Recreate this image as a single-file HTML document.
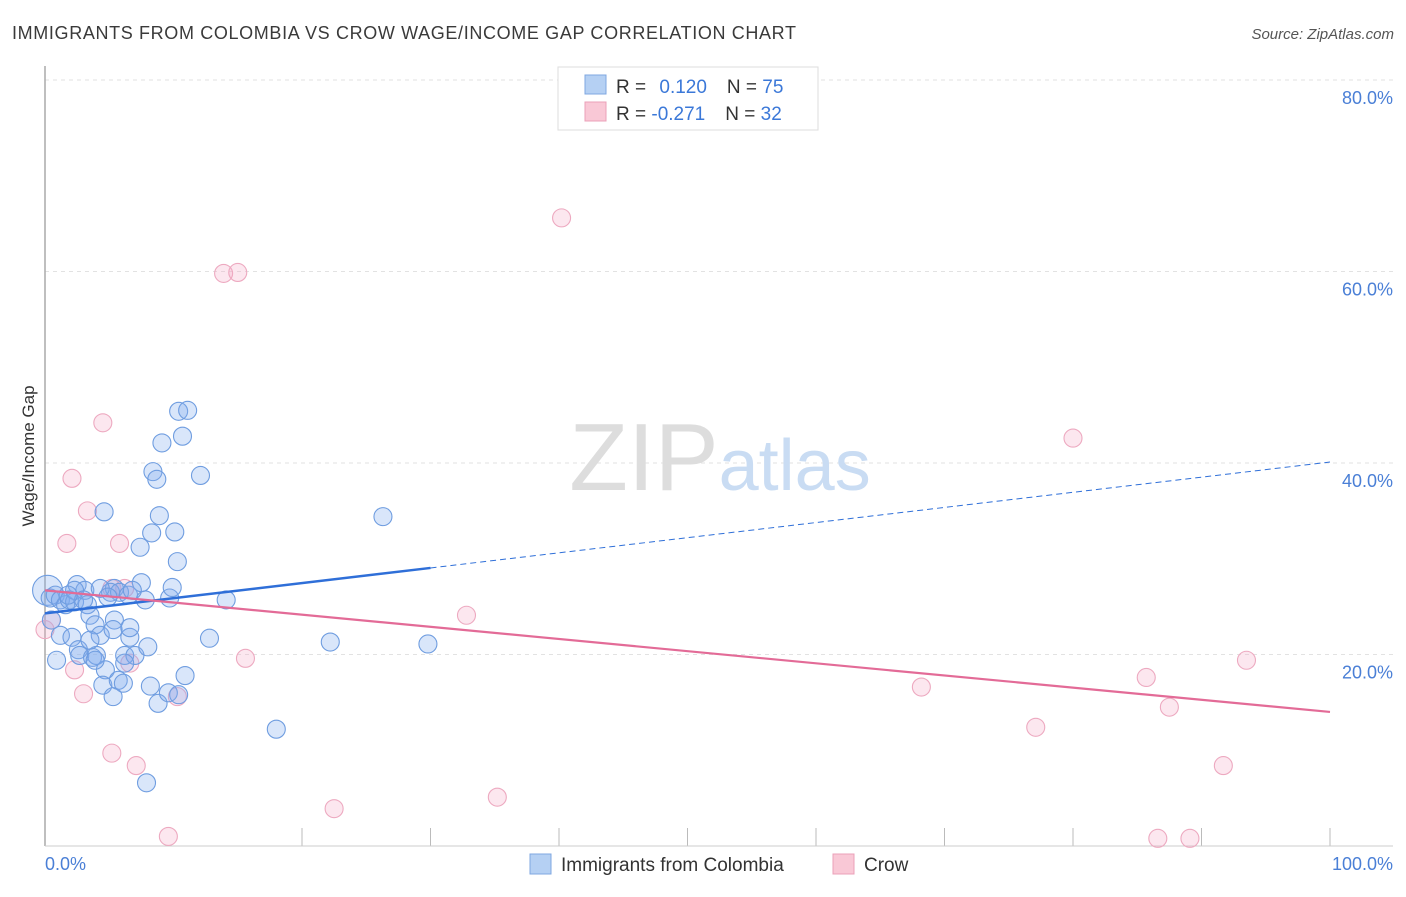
<!DOCTYPE html>
<html><head><meta charset="utf-8">
<style>
body{margin:0;background:#fff;font-family:"Liberation Sans",sans-serif;}
svg text{font-family:"Liberation Sans",sans-serif;}
</style></head>
<body>
<svg id="chart" width="1406" height="892" viewBox="0 0 1406 892" xmlns="http://www.w3.org/2000/svg">
<text x="12" y="39" font-size="18" fill="#3a3a3a" textLength="784">IMMIGRANTS FROM COLOMBIA VS CROW WAGE/INCOME GAP CORRELATION CHART</text>
<text x="1394" y="39" font-size="15" fill="#555" text-anchor="end" font-style="italic">Source: ZipAtlas.com</text>
<g id="grid"></g>
<text x="720" y="490" font-size="96" text-anchor="middle" fill="#ddd" font-family="Liberation Serif">ZIP<tspan fill="#c9dcf3" font-family="Liberation Sans" font-size="72">atlas</tspan></text>
<line x1="45" y1="66" x2="45" y2="846" stroke="#aaa" stroke-width="1.5"/>
<line x1="45" y1="846" x2="1393" y2="846" stroke="#ccc" stroke-width="1"/>
<text transform="translate(34,456) rotate(-90)" font-size="17" fill="#333" text-anchor="middle">Wage/Income Gap</text>
<text x="45" y="870" font-size="18" fill="#4a7fd6">0.0%</text>
<text x="1393" y="870" font-size="18" fill="#4a7fd6" text-anchor="end">100.0%</text>
<g id="ticks"></g>
<g id="pts"></g>
<g id="trends"></g>
<g>
<rect x="558" y="67" width="260" height="63" fill="#fff" stroke="#ddd"/>
<rect x="585" y="75" width="21" height="19" fill="#b5d0f3" stroke="#7fa7e0"/>
<rect x="585" y="102" width="21" height="19" fill="#f9c8d6" stroke="#eba0b8"/>
<text x="616" y="93" font-size="19" fill="#333">R = <tspan fill="#3b78d8" dx="8">0.120</tspan><tspan fill="#333" dx="20">N = </tspan><tspan fill="#3b78d8">75</tspan></text>
<text x="616" y="120" font-size="19" fill="#333">R = <tspan fill="#3b78d8">-0.271</tspan><tspan fill="#333" dx="20">N = </tspan><tspan fill="#3b78d8">32</tspan></text>
</g>
<g>
<rect x="530" y="854" width="21" height="20" fill="#b5d0f3" stroke="#7fa7e0"/>
<text x="561" y="871" font-size="19" fill="#333">Immigrants from Colombia</text>
<rect x="833" y="854" width="21" height="20" fill="#f9c8d6" stroke="#eba0b8"/>
<text x="864" y="871" font-size="19" fill="#333">Crow</text>
</g>
</svg>
<script>
const yTicks=[20,40,60,80];
const xTickMarks=[20,30,40,50,60,70,80,90,100];
const blueX=[0.2,0.4,0.8,1.2,1.6,1.9,2.3,0.5,1.2,0.9,2.1,2.6,2.7,2.5,3.1,3.3,3.5,3.9,4.3,3.7,4.0,4.7,4.5,5.3,5.7,6.1,5.4,5.1,5.8,6.5,5.4,5.3,6.2,6.6,6.6,7.0,6.2,7.8,7.5,8.0,8.2,8.8,9.6,10.4,10.9,7.9,9.7,9.9,8.9,8.3,7.4,10.1,10.3,4.6,9.1,8.4,8.7,10.7,10.4,11.1,12.1,12.8,14.1,18.0,22.2,26.3,29.8,4.3,4.9,6.8,2.3,3.0,3.5,3.9,1.8];
const blueY=[26.7,25.9,26.2,25.7,25.2,25.7,25.5,23.6,22.0,19.4,21.8,20.5,19.9,27.3,26.7,25.2,24.1,23.1,22.0,19.7,19.9,18.4,16.8,15.6,17.3,17.0,26.9,26.5,26.5,26.2,23.6,22.6,19.9,21.8,22.8,19.9,19.1,25.7,27.5,20.8,16.7,14.9,16.0,15.8,17.8,6.6,25.9,27.0,34.5,32.7,31.2,32.8,29.7,34.9,42.1,39.1,38.3,42.8,45.4,45.5,38.7,21.7,25.7,12.2,21.3,34.4,21.1,26.9,26.0,26.7,26.7,25.7,21.5,19.4,26.2];
const pinkX=[0,0.5,2.1,1.7,3.3,4.5,5.8,5.2,6.2,2.3,3.0,5.2,7.1,6.6,9.6,10.3,13.9,15.0,15.6,22.5,32.8,35.2,40.2,68.2,77.1,80.0,85.7,86.6,87.5,89.1,91.7,93.5];
const pinkY=[22.6,23.6,38.4,31.6,35.0,44.2,31.6,26.9,26.9,18.4,15.9,9.7,8.4,19.1,1.0,15.6,59.8,59.9,19.6,3.9,24.1,5.1,65.6,16.6,12.4,42.6,17.6,0.8,14.5,0.8,8.4,19.4];
const blueTrend=[24.3,40.1];
const pinkTrend=[26.7,14.0];
const NS="http://www.w3.org/2000/svg";
function sx(v){return 45+v*12.85;}
function sy(v){return 846-v*9.575;}
function mk(tag,attrs,parent){const e=document.createElementNS(NS,tag);for(const k in attrs)e.setAttribute(k,attrs[k]);parent.appendChild(e);return e;}
const grid=document.getElementById('grid'),ticks=document.getElementById('ticks'),pts=document.getElementById('pts'),tr=document.getElementById('trends');
yTicks.forEach(v=>{
 const l=mk('line',{x1:45,x2:1393,y1:sy(v),y2:sy(v),stroke:'#e2e2e2','stroke-dasharray':'4,4'},grid);
 
 
 const t=mk('text',{x:1393,y:sy(v)+24,'font-size':18,fill:'#4a7fd6','text-anchor':'end'},ticks);
 t.textContent=v.toFixed(1)+'%';
 
 
});
xTickMarks.forEach(v=>{
 const l=mk('line',{x1:sx(v),x2:sx(v),y1:828,y2:846,stroke:'#bbb'},grid);
 
 
});
pinkX.forEach((x,i)=>{
 const c=mk('circle',{cx:sx(x),cy:sy(pinkY[i]),r:9,fill:'rgba(245,170,196,0.28)',stroke:'#eda9c0','stroke-width':1.1},pts);
 
 
});
blueX.forEach((x,i)=>{
 const c=mk('circle',{cx:sx(x),cy:sy(blueY[i]),r:i===0?15:9,fill:'rgba(130,172,238,0.3)',stroke:'#6f9de0','stroke-width':1.1},pts);
 
 
});
const bEnd=30;
const bMid=blueTrend[0]+(blueTrend[1]-blueTrend[0])*bEnd/100;
let l1=mk('line',{x1:sx(0),y1:sy(blueTrend[0]),x2:sx(bEnd),y2:sy(bMid),stroke:'#2f6fd8','stroke-width':2.5},tr);


let l2=mk('line',{x1:sx(bEnd),y1:sy(bMid),x2:sx(100),y2:sy(blueTrend[1]),stroke:'#2f6fd8','stroke-width':1,'stroke-dasharray':'6,4'},tr);


let l3=mk('line',{x1:sx(0),y1:sy(pinkTrend[0]),x2:sx(100),y2:sy(pinkTrend[1]),stroke:'#e36b97','stroke-width':2.2},tr);


</script>
</body></html>
